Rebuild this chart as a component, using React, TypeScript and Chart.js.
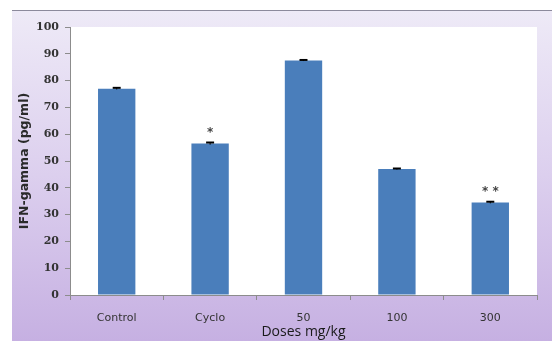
import React, { useEffect, useRef } from "react";
import { Chart, registerables } from "chart.js";

Chart.register(...registerables);

const categories = ["Control", "Cyclo", "50", "100", "300"];
const values = [77, 56.5, 87.5, 47, 34.5];
const errors = [0.3, 0.4, 0.2, 0.2, 0.3];
const marks = ["", "*", "", "", "* *"];
const yTicks = [0, 10, 20, 30, 40, 50, 60, 70, 80, 90, 100];

const W = 552;
const H = 341;

const bgPlugin = {
  id: "bgPlugin",
  beforeDraw(chart: any) {
    const ctx = chart.ctx;
    const a = chart.chartArea;
    ctx.save();
    ctx.fillStyle = "#ffffff";
    ctx.fillRect(0, 0, W, H);
    const g = ctx.createLinearGradient(0, 10, 0, H);
    g.addColorStop(0, "#eeeaf7");
    g.addColorStop(0.5, "#dccfee");
    g.addColorStop(1, "#c6b0e2");
    ctx.fillStyle = g;
    ctx.fillRect(12, 10, W - 12, H - 10);
    ctx.strokeStyle = "#8c8a9c";
    ctx.lineWidth = 1;
    ctx.beginPath();
    ctx.moveTo(12, 10.5);
    ctx.lineTo(W, 10.5);
    ctx.stroke();
    ctx.fillStyle = "#ffffff";
    ctx.fillRect(a.left, a.top, a.right - a.left, a.bottom - a.top);
    ctx.restore();
  },
  afterDatasetsDraw(chart: any) {
    const ctx = chart.ctx;
    const meta = chart.getDatasetMeta(0);
    const ys = chart.scales.y;
    ctx.save();
    values.forEach((v, i) => {
      const bar = meta.data[i];
      const x = bar.x;
      const yTop = ys.getPixelForValue(v + errors[i]);
      const yBot = ys.getPixelForValue(v - errors[i]);
      ctx.strokeStyle = "#000000";
      ctx.lineWidth = 1;
      ctx.beginPath();
      ctx.moveTo(x, yTop);
      ctx.lineTo(x, yBot);
      ctx.stroke();
      ctx.lineWidth = 2;
      ctx.beginPath();
      ctx.moveTo(x - 4, yTop);
      ctx.lineTo(x + 4, yTop);
      ctx.stroke();
      if (marks[i]) {
        ctx.fillStyle = "#444444";
        ctx.font = "bold 12px 'DejaVu Sans'";
        ctx.textAlign = "center";
        ctx.textBaseline = "middle";
        ctx.fillText(marks[i], x, ys.getPixelForValue(v) - 11);
      }
    });
    ctx.restore();
  },
};

export default function App() {
  const ref = useRef<HTMLCanvasElement>(null);
  useEffect(() => {
    if (!ref.current) return;
    const chart = new Chart(ref.current, {
      type: "bar",
      data: {
        labels: categories,
        datasets: [
          {
            data: values,
            backgroundColor: "#4a7ebb",
            borderWidth: 0,
            barPercentage: 0.4,
            categoryPercentage: 1,
          },
        ],
      },
      options: {
        responsive: false,
        animation: false,
        devicePixelRatio: 1,
        layout: { padding: { left: 0, right: 15, top: 27, bottom: 0 } },
        plugins: { legend: { display: false }, tooltip: { enabled: false } },
        scales: {
          x: {
            offset: true,
            grid: {
              offset: true,
              drawOnChartArea: false,
              drawTicks: true,
              tickLength: 5,
              color: "#8c8c8c",
            },
            border: { display: true, color: "#8c8c8c" },
            ticks: {
              color: "#333333",
              font: { family: "'DejaVu Sans'", size: 11 },
              padding: 12,
              maxRotation: 0,
            },
            title: {
              display: true,
              text: "Doses mg/kg",
              color: "#1a1a1a",
              font: { family: "'Open Sans'", size: 14 },
              padding: { top: 0, bottom: 1 },
            },
            afterFit(scale: any) {
              scale.height = 46;
            },
          },
          y: {
            min: 0,
            max: 100,
            afterBuildTicks(scale: any) {
              scale.ticks = yTicks.map((v) => ({ value: v }));
            },
            grid: {
              drawOnChartArea: false,
              drawTicks: true,
              tickLength: 5,
              color: "#8c8c8c",
            },
            border: { display: true, color: "#8c8c8c" },
            ticks: {
              color: "#333333",
              font: { family: "'DejaVu Serif'", size: 11, weight: "bold" },
              padding: 6,
            },
            title: {
              display: true,
              text: "IFN-gamma (pg/ml)",
              color: "#2a2a2a",
              font: { family: "'DejaVu Sans'", size: 12.5, weight: "bold" },
              padding: { top: 17, bottom: 0 },
            },
            afterFit(scale: any) {
              scale.width = 70;
            },
          },
        },
      },
      plugins: [bgPlugin],
    });
    return () => chart.destroy();
  }, []);
  return (
    <div style={{ position: "absolute", left: 0, top: 0, width: W, height: H }}>
      <canvas ref={ref} width={W} height={H} style={{ width: W, height: H, display: "block" }} />
    </div>
  );
}
